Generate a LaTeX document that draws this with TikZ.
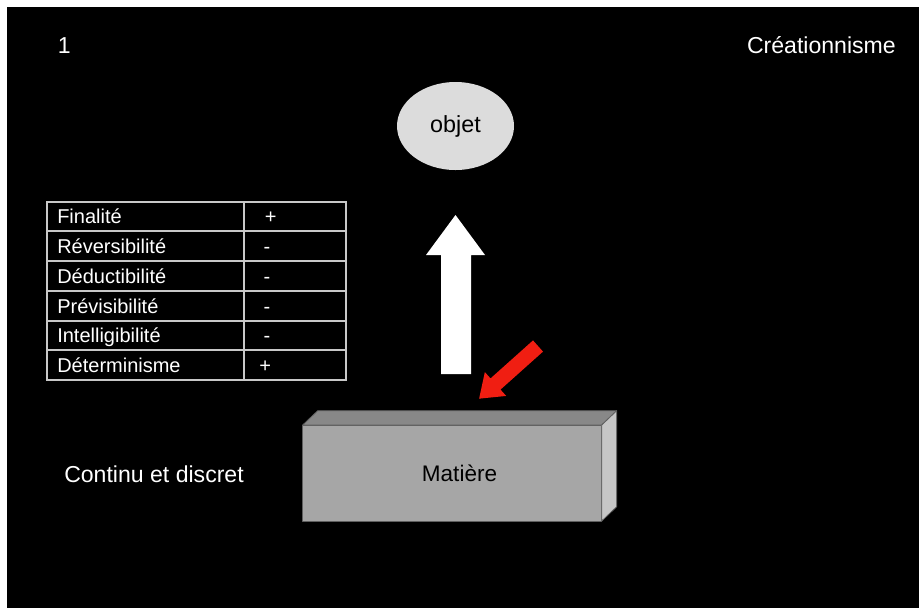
\documentclass[tikz,border=0pt]{standalone}
\usepackage{fontspec}
\setmainfont{Liberation Sans}
\usetikzlibrary{shapes.geometric}
\definecolor{gridgray}{RGB}{200,200,200}
\definecolor{objfill}{RGB}{220,220,220}
\definecolor{frontgray}{RGB}{166,166,166}
\definecolor{topgray}{RGB}{136,136,136}
\definecolor{sidegray}{RGB}{198,198,198}
\definecolor{edgegray}{RGB}{95,95,95}
\definecolor{arrowred}{RGB}{240,30,18}
\begin{document}
\begin{tikzpicture}[x=0.75pt,y=-0.75pt,
  lbl/.style={text=white, inner sep=0pt, anchor=base west, font=\fontsize{17.3}{20}\selectfont},
  cell/.style={text=white, inner sep=0pt, anchor=base west, font=\fontsize{15}{18}\selectfont},
  sign/.style={text=white, inner sep=0pt, anchor=base, font=\fontsize{15}{18}\selectfont},
  tablerule/.style={draw=gridgray, line width=0.8pt},
  face/.style={draw=edgegray, line width=0.6pt, line join=round}]
% page and slide background
\fill[white] (0,0) rectangle (919,608);
\fill[black] (7,7) rectangle (919,608);
\useasboundingbox (0,0) rectangle (919,608);

% corner labels
\node[lbl] (num) at (57.5,53) {1};
\node[lbl, anchor=base east] (title) at (896,53) {Créationnisme};
\node[lbl] (cont) at (64,482) {Continu et discret};

% property table
\draw[tablerule] (47,202) rectangle (346,380);
\foreach \yy in {231,261,291,321,350}
  \draw[tablerule] (47,\yy) -- (346,\yy);
\draw[tablerule] (244,202) -- (244,380);
\node[cell] (p1) at (57,223.5) {Finalité};
\node[cell] (p2) at (57,253) {Réversibilité};
\node[cell] (p3) at (57,283) {Déductibilité};
\node[cell] (p4) at (57,313) {Prévisibilité};
\node[cell] (p5) at (57,342.5) {Intelligibilité};
\node[cell] (p6) at (57,372) {Déterminisme};
\node[sign] (s1) at (270.8,223.5) {+};
\node[sign] (s2) at (267,253) {-};
\node[sign] (s3) at (267,283) {-};
\node[sign] (s4) at (267,313) {-};
\node[sign] (s5) at (267,342.5) {-};
\node[sign] (s6) at (265.3,372) {+};

% object ellipse
\node[ellipse, fill=objfill, inner sep=0pt, minimum width=87.75pt, minimum height=66pt,
      font=\fontsize{17.5}{20}\selectfont, text=black] (objet) at (455.5,126) {objet};

% white block arrow from matter to object
\fill[white] (441,374) -- (441,255) -- (426,255) -- (455.5,215) -- (485,255)
  -- (471,255) -- (471,374) -- cycle;

% red block arrow pointing at the matter block
\begin{scope}[shift={(538,346)}, rotate=221.8]
  \fill[arrowred] (0,7.5) -- (57,7.5) -- (57,16) -- (79,0) -- (57,-16) -- (57,-7.5)
    -- (0,-7.5) -- cycle;
\end{scope}

% matter block (front, top and side faces)
\path[face, fill=frontgray] (302.7,425) rectangle (601.7,521);
\path[face, fill=topgray] (302.7,425) -- (317.7,410.7) -- (616.7,410.7) -- (601.7,425) -- cycle;
\path[face, fill=sidegray] (601.7,425) -- (616.7,410.7) -- (616.7,506.7) -- (601.7,521) -- cycle;
\node[inner sep=0pt, anchor=base, text=black, font=\fontsize{16.9}{20}\selectfont]
  (matiere) at (459.5,481.7) {Matière};
\end{tikzpicture}
\end{document}
